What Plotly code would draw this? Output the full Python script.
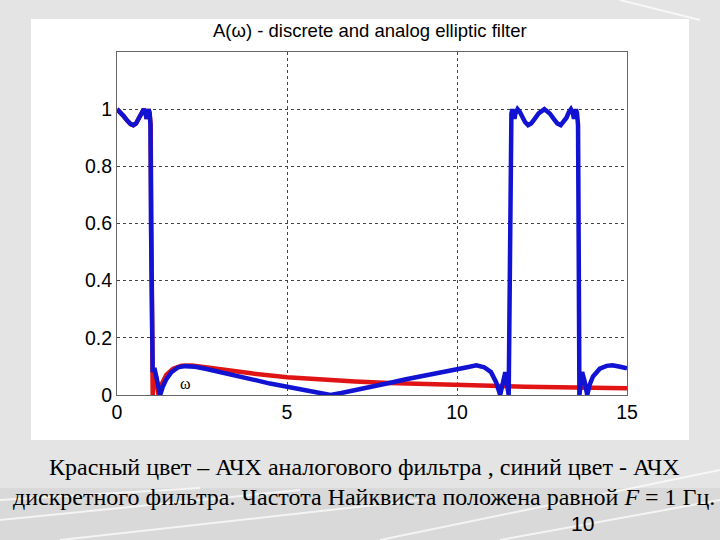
import plotly.graph_objects as go

# ---- data ----
blue_w = [0.00, 0.10, 0.20, 0.30, 0.40, 0.48, 0.56, 0.65, 0.72, 0.79, 0.84, 0.87, 0.90, 0.93, 0.96, 0.985,
          1.00, 1.01, 1.02, 1.05, 1.10, 1.15, 1.21, 1.27, 1.35, 1.45, 1.60, 1.80, 2.00, 2.30, 2.60, 3.00,
          3.33, 4.00, 4.50, 5.00, 5.50, 6.00, 6.28, 6.60, 7.00, 7.50, 8.04, 8.50, 9.00, 9.50, 10.00, 10.30,
          10.57, 10.80, 11.00, 11.15, 11.27, 11.35, 11.42, 11.52, 11.55, 11.57, 11.60, 11.63, 11.66, 11.69,
          11.72, 11.78, 11.85, 11.92, 12.00, 12.09, 12.18, 12.28, 12.40, 12.57, 12.73, 12.85, 12.95, 13.05,
          13.14, 13.22, 13.29, 13.35, 13.41, 13.44, 13.47, 13.50, 13.53, 13.56, 13.58, 13.60, 13.68, 13.75,
          13.83, 13.90, 14.00, 14.20, 14.40, 14.57, 14.80, 15.00]
blue_a = [1.000, 0.990, 0.975, 0.960, 0.948, 0.944, 0.950, 0.970, 0.990, 1.000, 0.985, 0.966, 0.985, 1.000, 0.985, 0.944,
          0.600, 0.300, 0.120, 0.080, 0.095, 0.070, 0.030, 0.000, 0.030, 0.055, 0.080, 0.097, 0.101, 0.099, 0.092, 0.082,
          0.070, 0.054, 0.040, 0.029, 0.018, 0.006, 0.000, 0.007, 0.018, 0.030, 0.043, 0.055, 0.066, 0.076, 0.088, 0.097,
          0.104, 0.097, 0.080, 0.045, 0.000, 0.050, 0.080, 0.000, 0.500, 0.944, 0.985, 1.000, 0.985, 0.966,
          0.985, 1.000, 0.990, 0.970, 0.955, 0.944, 0.950, 0.965, 0.985, 1.000, 0.985, 0.965, 0.950, 0.944,
          0.955, 0.970, 0.990, 1.000, 0.985, 0.966, 0.985, 1.000, 0.985, 0.944, 0.500, 0.000, 0.080, 0.050,
          0.000, 0.035, 0.065, 0.092, 0.102, 0.104, 0.099, 0.093]

red_w = [0.00, 0.10, 0.20, 0.30, 0.40, 0.48, 0.56, 0.65, 0.72, 0.79, 0.84, 0.87, 0.90, 0.93, 0.96, 0.99,
         1.01, 1.03, 1.05, 1.10, 1.16, 1.22, 1.30, 1.45, 1.65, 1.90, 2.20, 2.60, 3.00, 3.33, 4.00, 5.00,
         6.00, 7.00, 8.00, 9.00, 10.00, 11.00, 12.00, 13.00, 14.00, 15.00]
red_a = [1.000, 0.990, 0.975, 0.960, 0.948, 0.944, 0.950, 0.970, 0.990, 1.000, 0.985, 0.966, 0.985, 1.000, 0.985, 0.944,
         0.600, 0.200, 0.000, 0.080, 0.060, 0.000, 0.035, 0.070, 0.092, 0.102, 0.103, 0.097, 0.090, 0.085, 0.075, 0.062,
         0.053, 0.047, 0.042, 0.038, 0.035, 0.032, 0.029, 0.027, 0.025, 0.024]

x_ticks = [0, 5, 10, 15]
y_ticks = [0, 0.2, 0.4, 0.6, 0.8, 1.0]
y_tick_labels = ["0", "0.2", "0.4", "0.6", "0.8", "1"]

title_text = "A(ω) - discrete and analog elliptic filter"
caption_line1 = "Красный цвет – АЧХ аналогового фильтра , синий цвет - АЧХ"
caption_line2 = "дискретного фильтра. Частота Найквиста положена равной <i>F</i> = 1 Гц."
page_number = "10"

# ---- figure ----
L, R, T, B = 117, 93, 52, 145
W, H = 720, 540
pw, ph = W - L - R, H - T - B


def px_to_paper_x(px):
    return (px - L) / pw


def py_to_paper_y(py):
    return (H - B - py) / ph


fig = go.Figure()
fig.add_trace(go.Scatter(x=red_w, y=red_a, mode="lines",
                         line=dict(color="#e01414", width=4.5), hoverinfo="skip"))
fig.add_trace(go.Scatter(x=blue_w, y=blue_a, mode="lines",
                         line=dict(color="#1212d2", width=4.5), hoverinfo="skip"))

shapes = []
# darker band at the bottom of the slide
shapes.append(dict(type="rect", xref="paper", yref="paper", layer="below",
                   x0=px_to_paper_x(0), x1=px_to_paper_x(720),
                   y0=py_to_paper_y(488), y1=py_to_paper_y(540),
                   fillcolor="#d9d9d9", line=dict(width=0)))
# faint decorative streaks of the slide background
for (a, b, c, d) in [(0, 520, 300, 490), (60, 540, 420, 500), (380, 540, 720, 470),
                     (500, 540, 720, 500), (0, 500, 200, 488), (620, 0, 700, 20)]:
    shapes.append(dict(type="line", xref="paper", yref="paper", layer="below",
                       x0=px_to_paper_x(a), y0=py_to_paper_y(b),
                       x1=px_to_paper_x(c), y1=py_to_paper_y(d),
                       line=dict(color="rgba(255,255,255,0.7)", width=2)))
# white figure window
shapes.append(dict(type="rect", xref="paper", yref="paper", layer="below",
                   x0=px_to_paper_x(31), x1=px_to_paper_x(689),
                   y0=py_to_paper_y(440), y1=py_to_paper_y(19),
                   fillcolor="white", line=dict(width=0)))

serif = "Liberation Serif, Times New Roman"
annotations = [
    dict(text=title_text, xref="paper", yref="paper", x=px_to_paper_x(370), y=py_to_paper_y(30),
         showarrow=False, font=dict(family="Liberation Sans, Arial", size=18.5, color="black"),
         xanchor="center", yanchor="middle"),
    dict(text="ω", xref="x", yref="y", x=2.01, y=0.042, showarrow=False,
         font=dict(family=serif, size=16, color="black"),
         xanchor="center", yanchor="middle"),
    dict(text=caption_line1, xref="paper", yref="paper", x=px_to_paper_x(364), y=py_to_paper_y(467),
         showarrow=False, font=dict(family=serif, size=24, color="black"),
         xanchor="center", yanchor="middle"),
    dict(text=caption_line2, xref="paper", yref="paper", x=px_to_paper_x(364), y=py_to_paper_y(497),
         showarrow=False, font=dict(family=serif, size=24, color="black"),
         xanchor="center", yanchor="middle"),
    dict(text=page_number, xref="paper", yref="paper", x=px_to_paper_x(582), y=py_to_paper_y(523),
         showarrow=False, font=dict(family="Liberation Sans, Arial", size=21, color="black"),
         xanchor="center", yanchor="middle"),
]

fig.update_layout(
    width=W, height=H,
    margin=dict(l=L, r=R, t=T, b=B, pad=0),
    paper_bgcolor="#e4e4e4",
    plot_bgcolor="white",
    showlegend=False,
    shapes=shapes,
    annotations=annotations,
    font=dict(family="Liberation Sans, Arial", size=18, color="black"),
)
fig.update_xaxes(range=[0, 15], tickvals=x_ticks, ticktext=[str(v) for v in x_ticks],
                 showgrid=True, gridcolor="#444", griddash="dot", gridwidth=1,
                 showline=True, linecolor="#666", linewidth=1, mirror=True,
                 zeroline=False, ticks="", tickfont=dict(size=19.5))
fig.update_yaxes(range=[0, 1.2], tickvals=y_ticks, ticktext=y_tick_labels,
                 showgrid=True, gridcolor="#444", griddash="dot", gridwidth=1,
                 showline=True, linecolor="#666", linewidth=1, mirror=True,
                 zeroline=False, ticks="", tickfont=dict(size=19.5))

fig.write_html("out.html", config={"displayModeBar": False},
               post_script="document.body.style.margin='0px';document.body.style.overflow='hidden';")
